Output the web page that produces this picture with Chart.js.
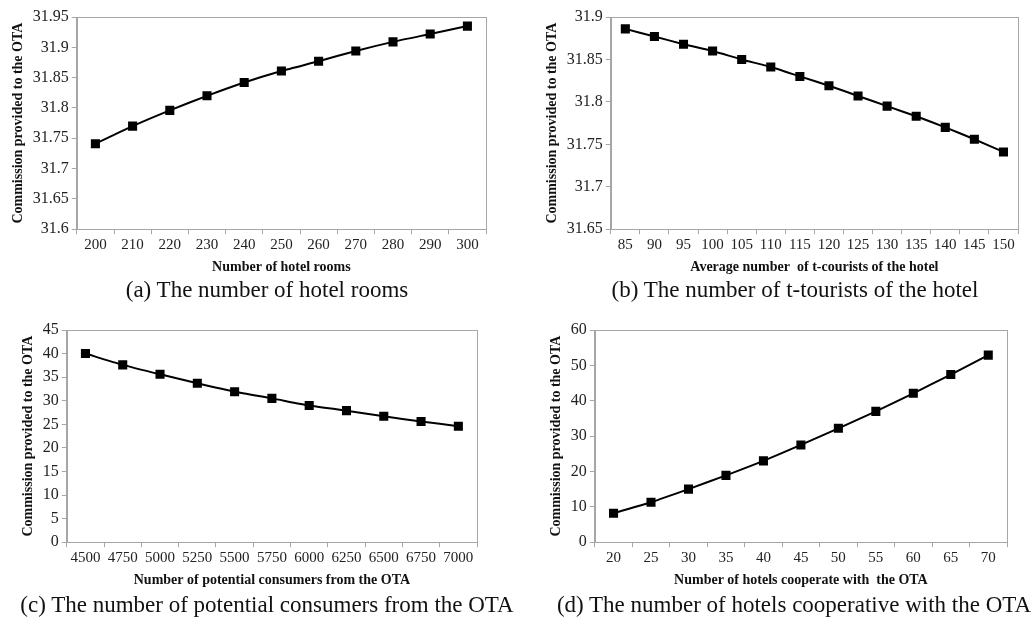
<!DOCTYPE html>
<html>
<head>
<meta charset="utf-8">
<script src="https://cdn.jsdelivr.net/npm/chart.js@4/dist/chart.umd.min.js"></script>
<style>
  body { margin: 0; background: #fff; width: 1035px; height: 621px; position: relative; overflow: hidden; }
  .box { position: absolute; }
  .cap { position: absolute; font-family: 'Liberation Serif', 'Times New Roman', 'DejaVu Serif', serif; font-size: 23px; color: #111; text-align: center; white-space: nowrap; }
</style>
</head>
<body>
<div class="box" style="left:0;top:0;width:505px;height:280px"><canvas id="ca"></canvas></div>
<div class="box" style="left:520px;top:0;width:515px;height:280px"><canvas id="cb"></canvas></div>
<div class="box" style="left:0;top:313px;width:505px;height:280px"><canvas id="cc"></canvas></div>
<div class="box" style="left:520px;top:313px;width:515px;height:280px"><canvas id="cd"></canvas></div>
<div class="cap" style="left:67px;width:400px;top:277px">(a) The number of hotel rooms</div>
<div class="cap" style="left:595px;width:400px;top:277px">(b) The number of t-tourists of the hotel</div>
<div class="cap" style="left:17px;width:500px;top:592px">(c) The number of potential consumers from the OTA</div>
<div class="cap" style="left:544px;width:500px;top:592px">(d) The number of hotels cooperative with the OTA</div>
<script>
// (a) hotel rooms
const roomLabels = ['200','210','220','230','240','250','260','270','280','290','300']
const roomValues = [31.741, 31.770, 31.796, 31.820, 31.842, 31.861, 31.877, 31.894, 31.909, 31.922, 31.935]

// (b) t-tourists
const touristLabels = ['85','90','95','100','105','110','115','120','125','130','135','140','145','150']
const touristValues = [31.886, 31.877, 31.868, 31.860, 31.850, 31.841, 31.830, 31.819, 31.807, 31.795, 31.783, 31.770, 31.756, 31.741]

// (c) potential consumers
const consumerLabels = ['4500','4750','5000','5250','5500','5750','6000','6250','6500','6750','7000']
const consumerValues = [40.0, 37.6, 35.6, 33.7, 31.9, 30.5, 29.0, 27.9, 26.7, 25.6, 24.6]

// (d) cooperating hotels
const hotelLabels = ['20','25','30','35','40','45','50','55','60','65','70']
const hotelValues = [8.2, 11.3, 15.0, 18.9, 23.0, 27.5, 32.2, 37.0, 42.1, 47.4, 52.9]

const yTitle = 'Commission provided to the OTA'
const serif = "'Liberation Serif', 'Times New Roman', 'DejaVu Serif', serif"

// 畫外框 (灰色)
const frame = {
  id: 'frame',
  afterDraw(chart){
    const { ctx, chartArea: a } = chart
    ctx.save()
    ctx.strokeStyle = '#a6a6a6'
    ctx.lineWidth = 1
    ctx.strokeRect(Math.round(a.left) + 0.5, Math.round(a.top) + 0.5, Math.round(a.right - a.left), Math.round(a.bottom - a.top))
    ctx.restore()
  }
}

function makeChart(id, labels, values, yMin, yMax, step, xTitle, pad){
  return new Chart(document.getElementById(id), {
    type: 'line',
    data: {
      labels,
      datasets: [{
        data: values,
        borderColor: '#000',
        backgroundColor: '#000',
        borderWidth: 2,
        pointStyle: 'rect',
        pointRadius: 5,
        tension: 0.2
      }]
    },
    plugins: [frame],
    options: {
      responsive: true,
      maintainAspectRatio: false,
      animation: false,
      layout: { padding: Object.assign({ top: 17, bottom: 0 }, pad) },
      plugins: { legend: { display: false }, tooltip: { enabled: false } },
      scales: {
        x: {
          offset: true,
          grid: { offset: true, drawOnChartArea: false, tickLength: 5, color: '#a6a6a6' },
          border: { color: '#a6a6a6' },
          ticks: { color: '#222', font: { family: serif, size: 15 }, maxRotation: 0, autoSkip: false, padding: 2 },
          title: { display: true, text: xTitle, color: '#111', font: { family: serif, size: 14, weight: 'bold' }, padding: { top: 3, bottom: 4 } }
        },
        y: {
          min: yMin,
          max: yMax,
          grid: { drawOnChartArea: false, tickLength: 5, color: '#a6a6a6' },
          border: { color: '#a6a6a6' },
          ticks: {
            stepSize: step, color: '#222', font: { family: serif, size: 16 }, padding: 3,
            callback: v => String(parseFloat(v.toFixed(2))) // 31.90 -> 31.9
          },
          title: { display: true, text: yTitle, color: '#111', font: { family: serif, size: 14, weight: 'bold' }, padding: { bottom: 3 } }
        }
      }
    }
  })
}

makeChart('ca', roomLabels, roomValues, 31.6, 31.95, 0.05, 'Number of hotel rooms', { right: 19, left: 6 })
makeChart('cb', touristLabels, touristValues, 31.65, 31.9, 0.05, 'Average number  of t-courists of the hotel', { right: 17, left: 20 })
makeChart('cc', consumerLabels, consumerValues, 0, 45, 5, 'Number of potential consumers from the OTA', { right: 28, left: 16 })
makeChart('cd', hotelLabels, hotelValues, 0, 60, 10, 'Number of hotels cooperate with  the OTA', { right: 28, left: 24 })
</script>
</body>
</html>
